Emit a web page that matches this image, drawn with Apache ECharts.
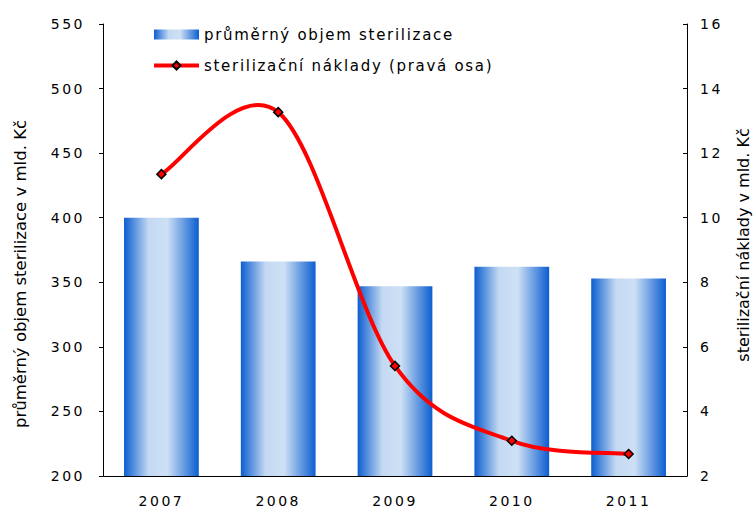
<!DOCTYPE html>
<html><head><meta charset="utf-8">
<script src="https://cdn.jsdelivr.net/npm/echarts@6/dist/echarts.min.js"></script>
<style>html,body{margin:0;padding:0;background:#fff}#c{width:753px;height:510px}</style>
</head><body><div id="c"></div>
<script>
var years = ['2007', '2008', '2009', '2010', '2011'];
var objem = [400, 366, 347, 362, 353];
var naklady = [11.35, 13.27, 5.41, 3.09, 2.68];
var leftTicks = {min: 200, max: 550, interval: 50};
var rightTicks = {min: 2, max: 16, interval: 2};
var nameBar = 'průměrný objem sterilizace';
var nameLine = 'sterilizační náklady (pravá osa)';
var titleLeft = 'průměrný objem sterilizace v mld. Kč';
var titleRight = 'sterilizační náklady v mld. Kč';

var FONT = 'DejaVu Sans';
var chart = echarts.init(document.getElementById('c'), null, {renderer: 'svg'});
var grad = new echarts.graphic.LinearGradient(0, 0, 1, 0, [
  {offset: 0, color: '#0c5ed0'},
  {offset: 0.33, color: '#c4d9f2'},
  {offset: 0.58, color: '#cde0f5'},
  {offset: 1, color: '#0c5ed0'}
]);

// Excel-like smoothed curve (Catmull-Rom style Bezier) through the data points, via axis coords
function renderCurve(params, api) {
  if (params.dataIndex !== 0) return null;
  var p = naklady.map(function (v, i) { return api.coord([i, v]); });
  var n = p.length, k = 1 / 6;
  var d = 'M' + p[0][0] + ' ' + p[0][1];
  for (var i = 0; i < n - 1; i++) {
    var a = p[i - 1] || p[i], b = p[i], c = p[i + 1], e = p[i + 2] || p[i + 1];
    var c1 = [b[0] + (c[0] - a[0]) * k, b[1] + (c[1] - a[1]) * k];
    var c2 = [c[0] - (e[0] - b[0]) * k, c[1] - (e[1] - b[1]) * k];
    d += ' C' + c1[0] + ' ' + c1[1] + ' ' + c2[0] + ' ' + c2[1] + ' ' + c[0] + ' ' + c[1];
  }
  return {type: 'path', shape: {pathData: d}, style: {stroke: '#ff0000', lineWidth: 4, fill: null, lineJoin: 'round'}};
}

chart.setOption({
  animation: false,
  textStyle: {fontFamily: FONT},
  grid: {left: 103, right: 66, top: 24, bottom: 34},
  legend: {
    orient: 'vertical', left: 147, top: 22, itemGap: 16,
    itemWidth: 45, itemHeight: 10,
    textStyle: {fontFamily: FONT, fontSize: 15, color: '#000'},
    data: [
      {name: nameBar, icon: 'rect'},
      {name: nameLine, lineStyle: {color: '#ff0000', width: 4, opacity: 1}}
    ]
  },
  xAxis: {
    type: 'category', data: years,
    axisLine: {lineStyle: {color: '#000', width: 1}},
    axisTick: {show: false},
    axisLabel: {fontSize: 14, color: '#000', margin: 18, fontFamily: FONT}
  },
  yAxis: [{
    type: 'value', min: leftTicks.min, max: leftTicks.max, interval: leftTicks.interval,
    axisLine: {show: true, lineStyle: {color: '#000', width: 1}},
    axisTick: {show: true, length: 4, lineStyle: {color: '#000'}},
    splitLine: {show: false},
    axisLabel: {fontSize: 14, color: '#000', margin: 18, fontFamily: FONT}
  }, {
    type: 'value', min: rightTicks.min, max: rightTicks.max, interval: rightTicks.interval,
    position: 'right',
    axisLine: {show: true, lineStyle: {color: '#000', width: 1}},
    axisTick: {show: true, inside: true, length: 4, lineStyle: {color: '#000'}},
    splitLine: {show: false},
    axisLabel: {fontSize: 14, color: '#000', margin: 13, fontFamily: FONT}
  }],
  graphic: [{
    type: 'text', rotation: Math.PI / 2, x: 20, y: 274,
    style: {text: titleLeft, font: '16.5px "DejaVu Sans"', fill: '#000', align: 'center', verticalAlign: 'middle'}
  }, {
    type: 'text', rotation: Math.PI / 2, x: 743, y: 245,
    style: {text: titleRight, font: '16px "DejaVu Sans"', fill: '#000', align: 'center', verticalAlign: 'middle'}
  }],
  series: [{
    name: nameBar, type: 'bar', data: objem, yAxisIndex: 0, barWidth: '64%',
    itemStyle: {color: grad}
  }, {
    name: 'curve', type: 'custom', yAxisIndex: 1, z: 3,
    data: naklady.map(function (v, i) { return [i, v]; }),
    renderItem: renderCurve, silent: true
  }, {
    name: nameLine, type: 'line', data: naklady, yAxisIndex: 1, z: 4,
    lineStyle: {opacity: 0},
    symbol: 'diamond', symbolSize: 9,
    itemStyle: {color: '#ff0000', borderColor: '#000', borderWidth: 1.5}
  }]
});
var texts = document.querySelectorAll('#c text');
texts.forEach(function (t) {
  var s = t.textContent.trim();
  if (/^\d+$/.test(s)) t.style.letterSpacing = '2.5px';
  else if (s === nameBar || s === nameLine) t.style.letterSpacing = '1.7px';
});
</script></body></html>
